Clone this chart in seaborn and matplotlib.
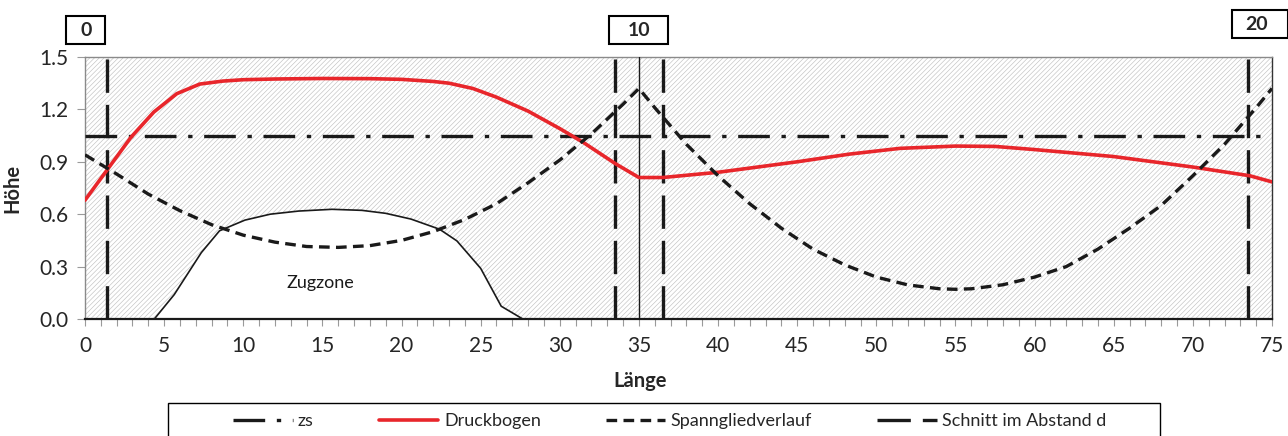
import numpy as np
import pandas as pd
import matplotlib
matplotlib.use("Agg")
import matplotlib.pyplot as plt
from matplotlib.patches import Rectangle
import seaborn as sns

# ---------------- data ----------------
druck_x = [0, 1.45, 2.9, 4.35, 5.8, 7.25, 8.7, 10, 12, 15, 18, 20, 22, 23, 24.5,
           26, 28, 30, 31.5, 33.5, 35, 36.5, 40, 45, 48.3, 51.5, 55, 57.5, 60,
           65, 70, 73.6, 75]
druck_y = [0.68, 0.86, 1.04, 1.185, 1.29, 1.345, 1.362, 1.37, 1.374, 1.377, 1.376,
           1.372, 1.36, 1.35, 1.32, 1.27, 1.19, 1.09, 1.01, 0.89, 0.81, 0.81, 0.84,
           0.90, 0.944, 0.977, 0.99, 0.988, 0.97, 0.93, 0.87, 0.82, 0.785]

spann_x = [0, 2, 4, 6, 8, 10, 12, 14, 16, 18, 20, 22, 24, 26, 28, 30, 32, 34, 35,
           36, 38, 40, 42, 44, 46, 48, 50, 52, 54, 55, 56, 58, 60, 62, 64, 66,
           68, 70, 72, 74, 75]
spann_y = [0.94, 0.83, 0.715, 0.62, 0.54, 0.48, 0.44, 0.415, 0.41, 0.42, 0.45,
           0.50, 0.57, 0.66, 0.78, 0.91, 1.06, 1.23, 1.32,
           1.21, 1.00, 0.82, 0.66, 0.52, 0.40, 0.31, 0.24, 0.195, 0.173, 0.17,
           0.173, 0.196, 0.24, 0.30, 0.40, 0.52, 0.65, 0.82, 1.00, 1.21, 1.32]

zug_x = [0, 4.38, 5.64, 7.35, 8.5, 10.1, 11.7, 13.5, 15.6, 17.5, 19.0, 20.6,
         22.4, 23.5, 25.0, 26.3, 27.66, 75]
zug_y = [0, 0, 0.14, 0.38, 0.505, 0.566, 0.60, 0.618, 0.628, 0.622, 0.605, 0.572,
         0.514, 0.447, 0.29, 0.073, 0, 0]

zs_value = 1.045
schnitt_x = [1.4, 33.5, 36.5, 73.5]
auflager_x = [35]

section_labels = ["0", "10", "20"]

xticks = list(range(0, 80, 5))
yticks = [0.0, 0.3, 0.6, 0.9, 1.2, 1.5]

# ---------------- style ----------------
sns.set_style("white")
plt.rcParams["font.family"] = ["Lato", "DejaVu Sans"]
plt.rcParams["hatch.linewidth"] = 0.45

W, H = 1288, 436
fig = plt.figure(figsize=(W / 100, H / 100), dpi=100)
ax = fig.add_axes([85 / W, 1 - 319 / H, (1272 - 85) / W, (319 - 57) / H])
ax.set_xlim(0, 75)
ax.set_ylim(0, 1.5)

# hatched background
ax.fill_between([0, 75], [0, 0], [1.5, 1.5], facecolor="white",
                edgecolor="#c2c2c2", hatch="///////", linewidth=0, zorder=0)
# Zugzone (white, unhatched)
ax.fill_between(zug_x, 0, zug_y, facecolor="white", edgecolor="none", zorder=1)
ax.plot(zug_x, zug_y, color="#1a1a1a", lw=1.2, zorder=2)
ax.text(14.9, 0.205, "Zugzone", fontsize=13, ha="center", va="center",
        color="#1a1a1a", zorder=3)

lw = 2.4
# zs
l_zs = ax.axhline(zs_value, color="#1a1a1a", lw=lw,
                  linestyle=(0, (9.5, 3.5, 1.3, 3.5)), zorder=4)
# Druckbogen
dfd = pd.DataFrame({"x": druck_x, "y": druck_y})
sns.lineplot(data=dfd, x="x", y="y", ax=ax, color="#e8262b", lw=2.6,
             errorbar=None, zorder=5)
l_dr = ax.get_lines()[-1]
# Spannglied
dfs = pd.DataFrame({"x": spann_x, "y": spann_y})
sns.lineplot(data=dfs, x="x", y="y", ax=ax, color="#1a1a1a", lw=lw,
             errorbar=None, zorder=5)
l_sp = ax.get_lines()[-1]
l_sp.set_linestyle((0, (3.2, 1.9)))
# Schnitt lines
l_sc = None
for xv in schnitt_x:
    l_sc = ax.axvline(xv, color="#1a1a1a", lw=lw, linestyle=(0, (10, 3.6)),
                      zorder=4)
for xv in auflager_x:
    ax.axvline(xv, color="#1a1a1a", lw=1.0, zorder=4)

# axes styling
for s in ["top", "left", "right"]:
    ax.spines[s].set_color("#8a8a8a")
    ax.spines[s].set_linewidth(1.0)
ax.spines["right"].set_color("#333333")
ax.spines["bottom"].set_color("#1a1a1a")
ax.spines["bottom"].set_linewidth(1.6)
ax.spines["bottom"].set_zorder(6)

ax.set_xticks(xticks)
ax.set_xticks(np.arange(0, 76, 1), minor=True)
ax.set_xticklabels([str(t) for t in xticks])
ax.set_yticks(yticks)
ax.set_yticklabels([f"{t:.1f}" for t in yticks])
ax.tick_params(axis="x", which="both", direction="out", length=5, width=0.8,
               color="#9a9a9a", bottom=True, labelsize=15, pad=7)
ax.tick_params(axis="y", direction="out", length=6, width=0.8,
               color="#9a9a9a", left=True, labelsize=15, pad=6)

ax.set_xlabel("Länge", fontsize=14.5, fontweight="bold")
ax.xaxis.set_label_coords((640 - 85) / (1272 - 85), -0.2)
ax.set_ylabel("Höhe", fontsize=14.5, fontweight="bold")
ax.yaxis.set_label_coords((22 - 85) / (1272 - 85), 0.5)

# section boxes (figure pixel boxes, positioned from data x)
box_specs = [(0.05, 39, 30), (35.0, 59, 30), (73.9, 56, 24)]
for lab, (xv, bw, yc) in zip(section_labels, box_specs):
    xc = ax.transData.transform((xv, 0))[0]
    if lab == "20":
        x0 = 1232
        xc = 1257
    else:
        x0 = xc - bw / 2
    fig.patches.append(Rectangle((x0 / W, 1 - (yc + 14) / H), bw / W, 28 / H,
                                 transform=fig.transFigure, fill=True,
                                 fc="white", ec="black", lw=1.5, zorder=5))
    fig.text(xc / W, 1 - yc / H, lab, fontsize=14, fontweight="bold",
             ha="center", va="center", zorder=6)

# legend frame (cut off by the lower figure edge, as in the original)
fig.patches.append(Rectangle((168 / W, -0.05), (1160 - 168) / W,
                             (1 - 403 / H) + 0.05, transform=fig.transFigure,
                             fill=True, fc="white", ec="black", lw=1.0,
                             zorder=1))
handles = [l_zs, l_dr, l_sp, l_sc]
labels = ["zs", "Druckbogen", "Spanngliedverlauf", "Schnitt im Abstand d"]
leg = fig.legend(handles, labels, loc="center left",
                 bbox_to_anchor=(233 / W, 1 - 421 / H), ncol=4, fontsize=13,
                 frameon=False, handlelength=3.3, columnspacing=3.6,
                 handletextpad=0.3, borderpad=0.0, borderaxespad=0.0)
leg.set_zorder(3)

fig.savefig("out.png", dpi=100)
